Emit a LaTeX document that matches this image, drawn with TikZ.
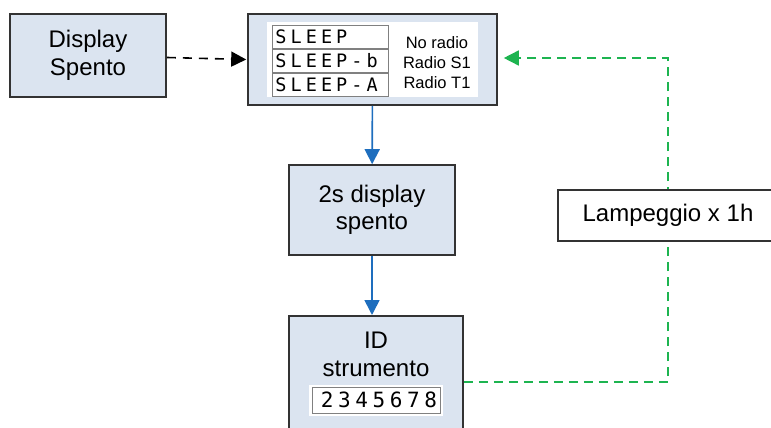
\documentclass[tikz,border=0pt]{standalone}
\usepackage{fontspec}
\setmainfont{Liberation Sans}
\newfontfamily\lcdfont[LetterSpace=22]{DejaVu Sans Mono}
\usetikzlibrary{positioning,arrows.meta}
\pgfdeclarelayer{background}
\pgfsetlayers{background,main}

\definecolor{boxblue}{RGB}{219,228,240}
\definecolor{boxline}{RGB}{51,51,51}
\definecolor{flowblue}{RGB}{30,110,190}
\definecolor{flowgreen}{RGB}{29,180,80}

\begin{document}
\begin{tikzpicture}[x=1pt,y=-1pt,
  blk/.style={draw=boxline, line width=1.6pt, fill=boxblue, align=center, inner sep=0pt,
              font=\fontsize{24}{27.5}\selectfont},
  lcdrow/.style={draw=gray, line width=0.8pt, fill=white, minimum height=23pt, text width=110pt,
                 align=left, inner xsep=3pt, inner ysep=0pt, font=\lcdfont\fontsize{18.5}{19}\selectfont},
  tag/.style={inner sep=0pt, font=\fontsize{16.5}{18}\selectfont},
  >={Triangle[length=15pt,width=15pt]}]

  \useasboundingbox (0,0) rectangle (771,428);

  % Blocks
  \node[blk, minimum width=156pt, minimum height=83pt] (off) at (88,55.5) {Display\\Spento};
  \node[blk, minimum width=249pt, minimum height=91pt] (sleep) at (372.5,59.5) {};
  \node[blk, minimum width=166pt, minimum height=90pt] (wait) at (372,210) {2s display\\spento};
  \node[blk, minimum width=174pt, minimum height=127pt, anchor=north] (id) at (376,315) {};
  \node[draw=boxline, line width=1.6pt, fill=white, minimum width=220pt, minimum height=51pt,
        inner sep=0pt, font=\fontsize{24}{26}\selectfont] (blink) at (668,215.5) {Lampeggio x 1h};

  % Sleep screens
  \node[fill=white, minimum width=211pt, minimum height=75pt, inner sep=0pt] (panel) at (372.5,59.5) {};
  \node[lcdrow, anchor=north west] (row1) at (272,25) {SLEEP};
  \node[lcdrow, below=0pt of row1] (row2) {SLEEP-b};
  \node[lcdrow, below=0pt of row2] (row3) {SLEEP-A};
  \node[tag] (norad) at (437,43) {No radio};
  \node[tag] (rads1) at (437,63) {Radio S1};
  \node[tag] (radt1) at (437,83) {Radio T1};

  % ID text and number
  \node[inner sep=0pt, align=center, font=\fontsize{24}{28}\selectfont] (idtxt) at (376,354) {ID\\strumento};
  \node[fill=white, minimum width=134pt, minimum height=31pt, inner sep=0pt] (numbg) at (376,400.5) {};
  \node[draw=gray, line width=0.8pt, fill=white, minimum height=26pt, text width=122pt, align=right,
        inner xsep=3pt, inner ysep=0pt, font=\lcdfont\fontsize{21}{22}\selectfont] (num) at (376,400) {2345678};

  % Flow
  \draw[->, dash pattern=on 9pt off 7pt, line width=1.6pt] (off) -- ([xshift=-1pt]sleep.west);
  \draw[->, flowblue, line width=1.6pt] (sleep) -- (wait);
  \draw[->, flowblue, line width=1.6pt] (wait.south) -- (wait.south |- id.north);
  \coordinate (gbot) at (668,382);
  \coordinate (gtop) at (668,58);
  \begin{pgfonlayer}{background}
  \draw[->, flowgreen, dash pattern=on 9pt off 6pt, line width=1.6pt]
    (id.east |- gbot) -- (gbot) -- (gtop) -- ([xshift=6pt]sleep.east |- gtop);
  \end{pgfonlayer}

\end{tikzpicture}
\end{document}
